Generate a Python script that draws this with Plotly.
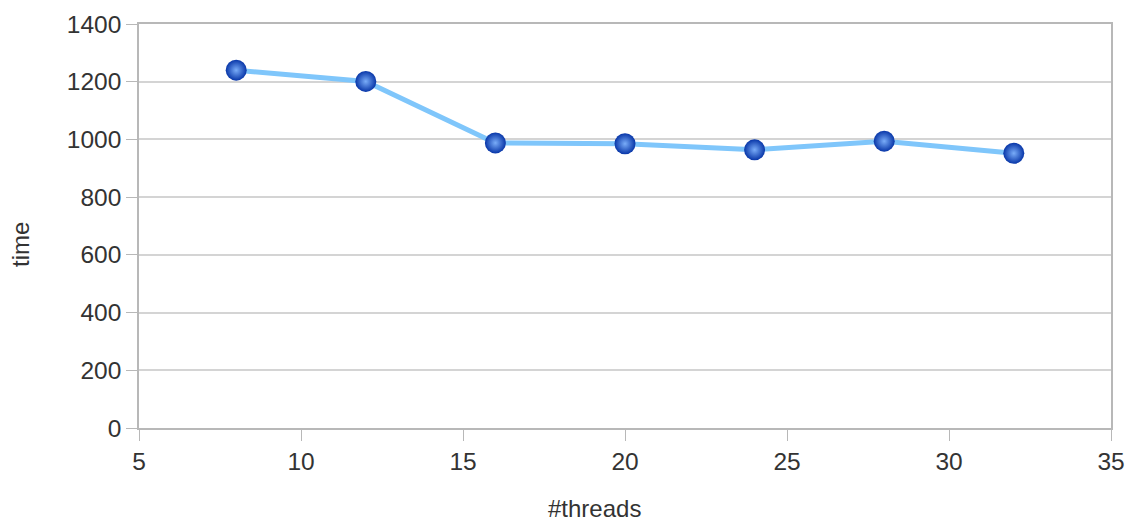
import plotly.graph_objects as go

threads = [8, 12, 16, 20, 24, 28, 32]
time_values = [1240, 1201, 988, 985, 964, 994, 952]

x_ticks = [5, 10, 15, 20, 25, 30, 35]
y_ticks = [0, 200, 400, 600, 800, 1000, 1200, 1400]

fig = go.Figure()
fig.add_trace(go.Scatter(
    x=threads,
    y=time_values,
    mode="lines+markers",
    line=dict(color="#7fc6fb", width=5),
    marker=dict(
        size=21,
        color="#0836a8",
        gradient=dict(type="radial", color="#79acf8"),
        line=dict(width=0),
    ),
    showlegend=False,
))

family = "Liberation Sans, Arial, sans-serif"
tick_font = dict(family=family, size=24.5, color="#333333")
title_font = dict(family=family, size=24, color="#333333")
grid_col = "#d4d4d4"
line_col = "#b8b8b8"

fig.update_layout(
    width=1135,
    height=525,
    margin=dict(l=139, r=24, t=24, b=97, autoexpand=False),
    paper_bgcolor="white",
    plot_bgcolor="white",
    xaxis=dict(
        range=[5, 35],
        tickvals=x_ticks,
        showgrid=False,
        zeroline=False,
        showline=True,
        linecolor=line_col,
        linewidth=1.5,
        mirror=True,
        ticks="outside",
        ticklen=11,
        tickcolor=line_col,
        tickfont=tick_font,
        automargin=False,
    ),
    yaxis=dict(
        range=[0, 1400],
        tickvals=y_ticks,
        showgrid=True,
        gridcolor=grid_col,
        gridwidth=1.5,
        zeroline=False,
        showline=True,
        linecolor=line_col,
        linewidth=1.5,
        mirror=True,
        ticks="outside",
        ticklen=11,
        tickcolor=line_col,
        tickfont=tick_font,
        automargin=False,
    ),
    annotations=[
        dict(text="#threads", xref="paper", yref="paper", x=0, y=0,
             xshift=455, yshift=-95, xanchor="center", yanchor="bottom",
             borderpad=0, showarrow=False, font=title_font),
        dict(text="time", xref="paper", yref="paper", x=0, y=0,
             xshift=-119, yshift=183, xanchor="center", yanchor="middle",
             textangle=-90, showarrow=False, font=title_font),
    ],
)

fig.write_html("out.html")
